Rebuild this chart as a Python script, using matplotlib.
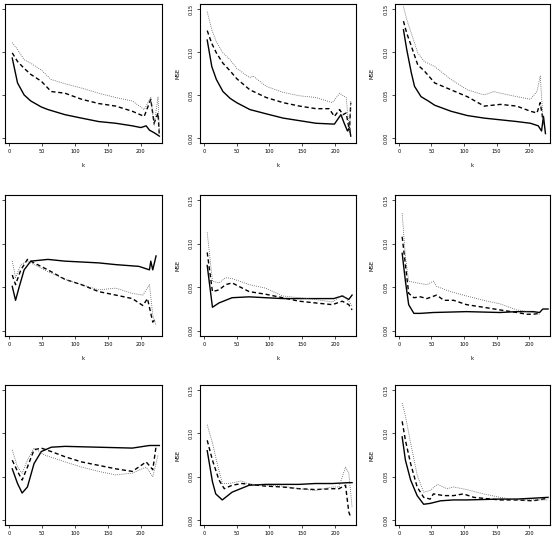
import matplotlib
matplotlib.use("Agg")
import matplotlib.pyplot as plt

# ---------------- data (k, MSE) per panel ----------------
p1_solid_k = [5, 13, 23, 33, 49, 59, 85, 110, 136, 162, 187, 200, 208, 213, 220, 228]
p1_solid = [0.093, 0.064, 0.050, 0.043, 0.036, 0.033, 0.027, 0.023, 0.019, 0.017, 0.014, 0.012, 0.014, 0.009, 0.006, 0.002]
p1_dash_k = [5, 13, 23, 33, 49, 64, 85, 110, 136, 162, 187, 205, 215, 220, 226, 228]
p1_dash = [0.099, 0.089, 0.081, 0.074, 0.066, 0.054, 0.052, 0.045, 0.040, 0.037, 0.031, 0.025, 0.045, 0.017, 0.029, 0.002]
p1_dot_k = [5, 13, 23, 33, 49, 64, 85, 110, 136, 162, 187, 205, 215, 220, 226, 228]
p1_dot = [0.111, 0.103, 0.091, 0.087, 0.079, 0.068, 0.063, 0.058, 0.052, 0.047, 0.043, 0.033, 0.047, 0.014, 0.048, 0.006]

p2_solid_k = [5, 12, 19, 29, 40, 50, 70, 95, 121, 146, 171, 199, 209, 214, 219, 222, 224]
p2_solid = [0.114, 0.083, 0.068, 0.054, 0.046, 0.041, 0.033, 0.028, 0.023, 0.020, 0.017, 0.016, 0.027, 0.017, 0.008, 0.012, 0.002]
p2_dash_k = [5, 12, 19, 29, 40, 50, 70, 95, 121, 146, 171, 191, 199, 207, 212, 217, 222, 224]
p2_dash = [0.125, 0.110, 0.099, 0.087, 0.078, 0.069, 0.056, 0.047, 0.041, 0.037, 0.034, 0.034, 0.025, 0.033, 0.027, 0.029, 0.008, 0.041]
p2_dot_k = [5, 12, 19, 29, 40, 50, 70, 75, 95, 121, 146, 171, 196, 207, 217, 222, 224]
p2_dot = [0.147, 0.126, 0.112, 0.099, 0.091, 0.081, 0.070, 0.072, 0.060, 0.053, 0.049, 0.047, 0.041, 0.052, 0.047, 0.006, 0.043]

p3_solid_k = [7, 12, 19, 24, 34, 45, 55, 80, 105, 131, 156, 181, 202, 214, 219, 222, 225]
p3_solid = [0.126, 0.103, 0.076, 0.060, 0.048, 0.043, 0.038, 0.031, 0.026, 0.023, 0.021, 0.019, 0.017, 0.014, 0.008, 0.025, 0.005]
p3_dash_k = [7, 12, 19, 29, 39, 55, 80, 105, 131, 156, 181, 202, 212, 217, 222]
p3_dash = [0.136, 0.122, 0.107, 0.085, 0.078, 0.064, 0.056, 0.048, 0.037, 0.039, 0.037, 0.031, 0.029, 0.041, 0.017]
p3_dot_k = [7, 12, 19, 29, 39, 55, 80, 105, 131, 146, 156, 181, 202, 212, 217, 222]
p3_dot = [0.153, 0.138, 0.122, 0.099, 0.089, 0.083, 0.068, 0.056, 0.050, 0.054, 0.052, 0.048, 0.045, 0.054, 0.072, 0.014]

p4_solid_k = [5, 10, 15, 23, 33, 59, 85, 136, 162, 197, 213, 215, 218, 223]
p4_solid = [0.051, 0.035, 0.049, 0.070, 0.080, 0.082, 0.080, 0.078, 0.076, 0.074, 0.070, 0.080, 0.070, 0.086]
p4_dash_k = [5, 10, 18, 28, 38, 59, 85, 110, 136, 162, 187, 203, 210, 218, 223]
p4_dash = [0.064, 0.053, 0.070, 0.082, 0.078, 0.070, 0.059, 0.053, 0.045, 0.041, 0.037, 0.029, 0.037, 0.010, 0.014]
p4_dot_k = [5, 10, 18, 28, 38, 59, 85, 110, 136, 162, 187, 203, 213, 218, 223]
p4_dot = [0.080, 0.061, 0.076, 0.080, 0.076, 0.068, 0.059, 0.053, 0.047, 0.049, 0.043, 0.041, 0.053, 0.018, 0.006]

p5_solid_k = [5, 13, 23, 43, 69, 94, 120, 145, 170, 198, 211, 221, 226]
p5_solid = [0.075, 0.027, 0.032, 0.038, 0.039, 0.038, 0.037, 0.037, 0.037, 0.037, 0.040, 0.036, 0.041]
p5_dash_k = [5, 13, 23, 33, 43, 69, 94, 120, 145, 170, 196, 211, 221, 226]
p5_dash = [0.090, 0.045, 0.047, 0.053, 0.055, 0.045, 0.042, 0.038, 0.034, 0.032, 0.030, 0.034, 0.030, 0.024]
p5_dot_k = [5, 13, 23, 33, 43, 69, 94, 120, 145, 170, 196, 211, 221, 226]
p5_dot = [0.113, 0.057, 0.055, 0.061, 0.060, 0.053, 0.049, 0.040, 0.038, 0.036, 0.033, 0.041, 0.034, 0.028]

p6_solid_k = [5, 10, 15, 23, 33, 53, 104, 155, 181, 206, 216, 221, 229]
p6_solid = [0.089, 0.057, 0.030, 0.020, 0.020, 0.021, 0.022, 0.021, 0.022, 0.022, 0.021, 0.025, 0.025]
p6_dash_k = [5, 10, 15, 23, 33, 43, 58, 69, 84, 104, 130, 155, 181, 196, 206, 216]
p6_dash = [0.108, 0.076, 0.043, 0.038, 0.039, 0.037, 0.041, 0.035, 0.035, 0.030, 0.027, 0.024, 0.021, 0.019, 0.019, 0.020]
p6_dot_k = [5, 10, 15, 28, 43, 53, 58, 79, 99, 104, 130, 155, 181, 206, 216]
p6_dot = [0.135, 0.085, 0.057, 0.055, 0.053, 0.057, 0.051, 0.045, 0.041, 0.040, 0.035, 0.031, 0.024, 0.021, 0.019]

p7_solid_k = [5, 13, 20, 28, 38, 49, 64, 85, 136, 187, 213, 228]
p7_solid = [0.059, 0.042, 0.031, 0.038, 0.065, 0.079, 0.084, 0.085, 0.084, 0.083, 0.086, 0.086]
p7_dash_k = [5, 13, 20, 28, 38, 49, 64, 85, 110, 136, 162, 187, 208, 218, 223]
p7_dash = [0.069, 0.056, 0.046, 0.061, 0.081, 0.083, 0.079, 0.073, 0.067, 0.063, 0.059, 0.056, 0.067, 0.058, 0.085]
p7_dot_k = [5, 13, 20, 28, 38, 54, 85, 110, 136, 162, 187, 208, 218, 226]
p7_dot = [0.081, 0.061, 0.054, 0.069, 0.083, 0.075, 0.067, 0.061, 0.056, 0.052, 0.054, 0.061, 0.050, 0.075]

p8_solid_k = [5, 13, 18, 28, 43, 69, 94, 120, 145, 170, 196, 221, 226]
p8_solid = [0.080, 0.044, 0.030, 0.023, 0.032, 0.040, 0.041, 0.041, 0.041, 0.042, 0.042, 0.043, 0.043]
p8_dash_k = [5, 13, 23, 31, 43, 58, 94, 120, 145, 170, 196, 206, 216, 221, 224]
p8_dash = [0.092, 0.069, 0.046, 0.036, 0.040, 0.042, 0.039, 0.038, 0.036, 0.035, 0.036, 0.036, 0.040, 0.009, 0.003]
p8_dot_k = [5, 13, 20, 28, 38, 58, 69, 120, 145, 170, 196, 206, 216, 221, 226]
p8_dot = [0.110, 0.089, 0.066, 0.042, 0.042, 0.045, 0.041, 0.039, 0.036, 0.034, 0.038, 0.038, 0.061, 0.054, 0.015]

p9_solid_k = [5, 10, 18, 28, 38, 48, 64, 84, 104, 155, 181, 206, 229]
p9_solid = [0.096, 0.069, 0.046, 0.028, 0.018, 0.019, 0.022, 0.023, 0.023, 0.024, 0.024, 0.025, 0.026]
p9_dash_k = [5, 10, 18, 28, 38, 48, 53, 69, 84, 99, 115, 155, 181, 206, 229]
p9_dash = [0.114, 0.092, 0.065, 0.038, 0.026, 0.024, 0.030, 0.028, 0.028, 0.030, 0.026, 0.023, 0.023, 0.022, 0.025]
p9_dot_k = [5, 10, 18, 28, 38, 48, 59, 74, 84, 104, 130, 155, 181, 206, 229]
p9_dot = [0.135, 0.120, 0.089, 0.052, 0.032, 0.034, 0.041, 0.036, 0.038, 0.035, 0.030, 0.026, 0.023, 0.023, 0.023]

x_ticks = [0, 50, 100, 150, 200]
y_ticks = [0.00, 0.05, 0.10, 0.15]
y_tick_labels = ["0.00", "0.05", "0.10", "0.15"]
x_label = "k"
y_label = "MSE"

panels = [
    (p1_solid_k, p1_solid, p1_dash_k, p1_dash, p1_dot_k, p1_dot),
    (p2_solid_k, p2_solid, p2_dash_k, p2_dash, p2_dot_k, p2_dot),
    (p3_solid_k, p3_solid, p3_dash_k, p3_dash, p3_dot_k, p3_dot),
    (p4_solid_k, p4_solid, p4_dash_k, p4_dash, p4_dot_k, p4_dot),
    (p5_solid_k, p5_solid, p5_dash_k, p5_dash, p5_dot_k, p5_dot),
    (p6_solid_k, p6_solid, p6_dash_k, p6_dash, p6_dot_k, p6_dot),
    (p7_solid_k, p7_solid, p7_dash_k, p7_dash, p7_dot_k, p7_dot),
    (p8_solid_k, p8_solid, p8_dash_k, p8_dash, p8_dot_k, p8_dot),
    (p9_solid_k, p9_solid, p9_dash_k, p9_dash, p9_dot_k, p9_dot),
]

# ---------------- layout ----------------
W, H = 552, 539
fig = plt.figure(figsize=(W / 100, H / 100), dpi=100)
fig.patch.set_facecolor("white")

cols = [(5, 162), (200, 356), (395, 550)]
rows = [(4, 143), (195, 336), (385, 525)]

for i, (sk, sv, dk, dv, ok, ov) in enumerate(panels):
    r, c = divmod(i, 3)
    l, rr = cols[c]
    t, b = rows[r]
    ax = fig.add_axes([l / W, 1 - b / H, (rr - l) / W, (b - t) / H])
    ax.plot(sk, sv, color="black", lw=1.0, ls="-")
    ax.plot(dk, dv, color="black", lw=1.0, ls=(0, (3, 2)))
    ax.plot(ok, ov, color="#555555", lw=0.6, ls=(0, (1, 1.5)))
    ax.set_xlim(-6, 232)
    ax.set_ylim(-0.006, 0.156)
    ax.set_xticks(x_ticks)
    ax.set_xticklabels([str(v) for v in x_ticks])
    ax.set_yticks(y_ticks)
    ax.set_yticklabels(y_tick_labels, rotation=90, va="center")
    ax.tick_params(axis="both", which="major", length=2.5, width=0.5,
                   labelsize=3.6, pad=2, colors="black", direction="out")
    for sp in ax.spines.values():
        sp.set_linewidth(0.8)
        sp.set_color("black")
    if r < 2:
        ax.set_xlabel(x_label, fontsize=3.8)
        ax.xaxis.set_label_coords(0.5, -(163 - b) / (b - t) * -1 if False else -(163 - 143) / 139)
    ax.set_ylabel(y_label, fontsize=3.8)
    ax.yaxis.set_label_coords(-(l - (l - 20)) / (rr - l), 0.5)

fig.savefig("out.png", dpi=100)
